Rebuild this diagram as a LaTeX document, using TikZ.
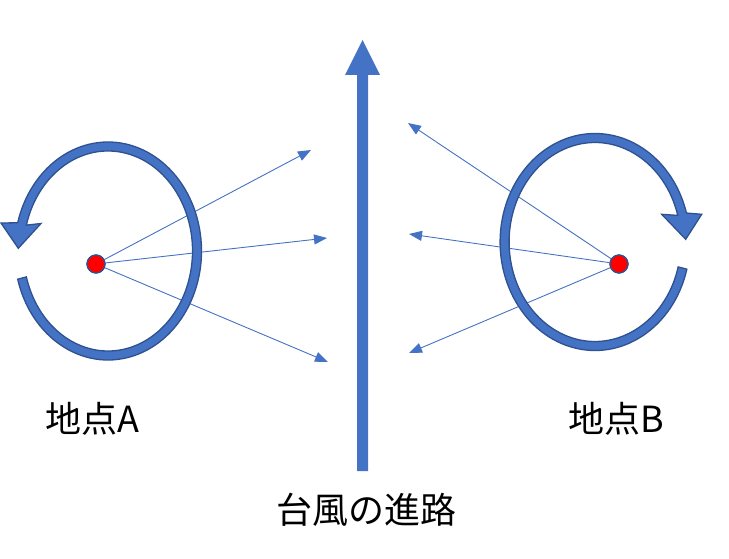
\documentclass[tikz,border=0pt]{standalone}
\usepackage{fontspec}
\newfontfamily\cjk{Noto Sans CJK JP}
\usetikzlibrary{arrows.meta,calc}
\definecolor{pblue}{HTML}{4472C4}
\definecolor{pdark}{HTML}{2F528F}
\begin{document}
\begin{tikzpicture}[x=1pt,y=-1pt,
  ringshape/.style={fill=pblue, draw=pdark, line width=1.3pt, line join=miter},
  reddot/.style={circle, fill=red, draw=pdark, line width=1.2pt, minimum size=18pt, inner sep=0pt},
  windarrow/.style={draw=pblue, line width=0.9pt, -{Triangle[length=13pt,width=10pt]}},
  txt/.style={font=\cjk\fontsize{36}{40}\selectfont, inner sep=0pt, text=black},
  trackshape/.style={fill=pblue}]
\useasboundingbox (0,0) rectangle (729,559);

% typhoon track
\fill[trackshape] (357,471) -- (357,75) -- (345,75) -- (362.5,40) -- (380,75) -- (368,75) -- (368,471) -- cycle;

% points
\node[reddot] (dA) at (96,264) {};
\node[reddot] (dB) at (619,264) {};

% wind target coordinates
\coordinate (a1) at (311,150);
\coordinate (a2) at (327,238);
\coordinate (a3) at (328,362);
\coordinate (b1) at (408,123);
\coordinate (b2) at (409,234);
\coordinate (b3) at (409,353);

\draw[windarrow] (dA) -- (a1);
\draw[windarrow] (dA) -- (a2);
\draw[windarrow] (dA) -- (a3);
\draw[windarrow] (dB) -- (b1);
\draw[windarrow] (dB) -- (b2);
\draw[windarrow] (dB) -- (b3);

% circular arrows
\path[ringshape] (108,251) ++(165:93.5 and 109)
  arc[start angle=165, end angle=-165, x radius=93.5, y radius=109]
  -- (1,223) -- (18.3,248.3) -- (41,223.5)
  -- ($(108,251)+(-165:84.5 and 100)$)
  arc[start angle=-165, end angle=165, x radius=84.5, y radius=100] -- cycle;

\path[ringshape] (595,242) ++(14.5:94.9 and 108.5)
  arc[start angle=14.5, end angle=344.5, x radius=94.9, y radius=108.5]
  -- (701.7,214.3) -- (685.7,239.3) -- (661.7,214.3)
  -- ($(595,242)+(344.5:85.9 and 99.5)$)
  arc[start angle=344.5, end angle=14.5, x radius=85.9, y radius=99.5] -- cycle;

% redraw dots on top
\node[reddot] at (dA) {};
\node[reddot] at (dB) {};

% labels
\node[txt] (lA) at (92,419) {地点A};
\node[txt] (lB) at (616,419) {地点B};
\node[txt] (lT) at (366,510) {台風の進路};
\end{tikzpicture}
\end{document}
